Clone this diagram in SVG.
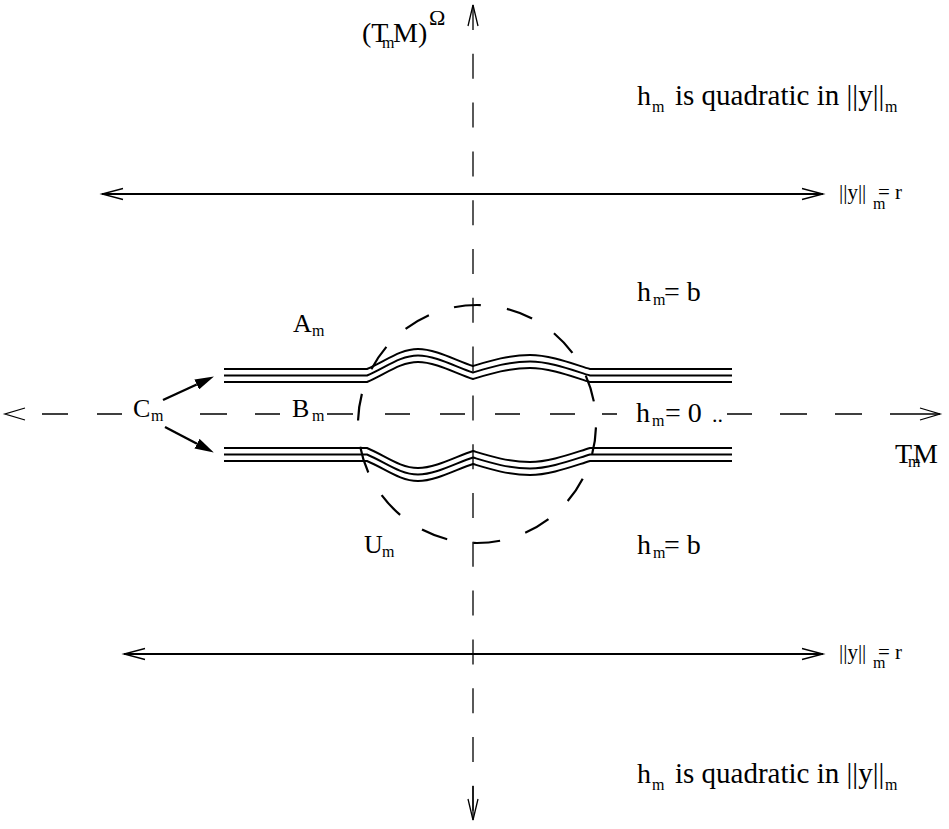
<svg xmlns="http://www.w3.org/2000/svg" width="949" height="829" viewBox="0 0 949 829">
<style>
text { font-family: "Liberation Serif", "Times New Roman", serif; fill: #000; font-size: 28px; }
.l { font-size: 26px; }
.s { font-size: 16px; }
.p { font-size: 29px; }
.n { font-size: 21px; }
.ns { font-size: 16px; }
.o { font-size: 22px; }
.solid { stroke: #000; stroke-width: 2; fill: none; }
.head { stroke: #000; stroke-width: 1.3; fill: none; }
.axis { stroke: #000; stroke-width: 1.3; fill: none; }
.vdash { stroke-dasharray: 25 23.8; }
.band { stroke: #000; stroke-width: 2; fill: none; }
.circ { stroke: #000; stroke-width: 2.2; fill: none; stroke-dasharray: 27 26.4; stroke-dashoffset: 50; }
.carrow { stroke: #000; stroke-width: 2.4; fill: none; }
</style>
<defs>
<marker id="fa" markerUnits="userSpaceOnUse" markerWidth="19" markerHeight="11" refX="0" refY="5.5" orient="auto">
<path d="M0,0 L19,5.5 L0,11 z" fill="#000"/>
</marker>
<path id="wave" d="M224,375.5 L367,375.5 C385,368 400,355.5 418,355.5 C436,355.5 458,368 473,372.5 C488,368 508,361.5 530,361.5 C550,361.5 572,370 590,375.5 L732,375.5"/>
<g id="triple">
<use href="#wave" transform="translate(0,-6.5)"/>
<use href="#wave"/>
<use href="#wave" transform="translate(0,6.5)"/>
</g>
</defs>
<rect width="949" height="829" fill="#fff"/>

<g id="connectors">
<path class="axis vdash" d="M473,5 L473,812"/>
<path class="axis" d="M473,786 L473,820"/>
<path class="head" d="M468,26 L473,5 L478,26"/>
<path class="head" d="M468,799 L473,820 L478,799"/>
<path class="axis" d="M42,414 L68,414 M97,414 L122,414 M200,414 L227,414 M255,414 L280,414 M327,414 L353,414 M385,414 L410,414 M440,414 L465,414 M495,414 L520,414 M550,414 L575,414 M602,414 L617,414 M727,414 L752,414 M780,414 L807,414 M835,414 L862,414 M890,414 L940,414"/>
<path class="head" d="M25,408 L5,414 L25,420"/>
<path class="head" d="M920,408 L940,414 L920,420"/>
<path class="solid" d="M102,194 L823,194"/>
<path class="head" d="M123,188.5 L102,194 L123,199.5 M802,188.5 L823,194 L802,199.5"/>
<path class="solid" d="M124,654 L823,654"/>
<path class="head" d="M145,648.5 L124,654 L145,659.5 M802,648.5 L823,654 L802,659.5"/>
<path class="carrow" d="M163,400 L196.7,384.5" marker-end="url(#fa)"/>
<path class="carrow" d="M165,427 L197,443.7" marker-end="url(#fa)"/>
</g>

<g id="U-circle">
<circle class="circ" cx="477" cy="424" r="119"/>
</g>

<g id="A-band" class="band">
<use href="#triple"/>
</g>
<g id="lower-band" class="band">
<use href="#triple" transform="matrix(1 0 0 -1 0 830)"/>
</g>

<g id="label-TmM-omega">
<text x="362" y="42">(T<tspan class="s" x="382" y="48">m</tspan><tspan x="393" y="42">M)</tspan><tspan class="o" x="429" y="25">Ω</tspan></text>
</g>

<g id="label-quadratic-top">
<text x="637" y="105">h<tspan class="s" x="652" y="112">m</tspan><tspan class="p" x="675" y="105">is quadratic in ||y||</tspan><tspan class="s" x="885" y="112">m</tspan></text>
</g>

<g id="label-r-top">
<text class="n" x="839" y="199">||y||<tspan class="ns" x="873" y="209">m</tspan><tspan x="878" y="199">= r</tspan></text>
</g>

<g id="label-hb-top">
<text x="637" y="301">h<tspan class="s" x="653" y="305">m</tspan><tspan x="664" y="301">= b</tspan></text>
</g>

<g id="label-A">
<text class="l" x="293" y="332">A<tspan class="s" x="312" y="336">m</tspan></text>
</g>

<g id="label-C">
<text class="l" x="133" y="417">C<tspan class="s" x="151" y="421">m</tspan></text>
</g>

<g id="label-B">
<text class="l" x="292" y="417">B<tspan class="s" x="312" y="421">m</tspan></text>
</g>

<g id="label-h0">
<text x="636" y="422">h<tspan class="s" x="652" y="426">m</tspan><tspan x="665" y="422">= 0</tspan><tspan class="o" x="712" y="422">..</tspan></text>
</g>

<g id="label-TmM">
<text x="895" y="463">T<tspan class="s" x="908" y="467">m</tspan><tspan x="913" y="463">M</tspan></text>
</g>

<g id="label-U">
<text class="l" x="364" y="553">U<tspan class="s" x="382" y="557">m</tspan></text>
</g>

<g id="label-hb-bottom">
<text x="637" y="554">h<tspan class="s" x="653" y="558">m</tspan><tspan x="664" y="554">= b</tspan></text>
</g>

<g id="label-r-bottom">
<text class="n" x="839" y="659">||y||<tspan class="ns" x="873" y="668">m</tspan><tspan x="878" y="659">= r</tspan></text>
</g>

<g id="label-quadratic-bottom">
<text x="637" y="783">h<tspan class="s" x="652" y="790">m</tspan><tspan class="p" x="675" y="783">is quadratic in ||y||</tspan><tspan class="s" x="885" y="790">m</tspan></text>
</g>
</svg>
